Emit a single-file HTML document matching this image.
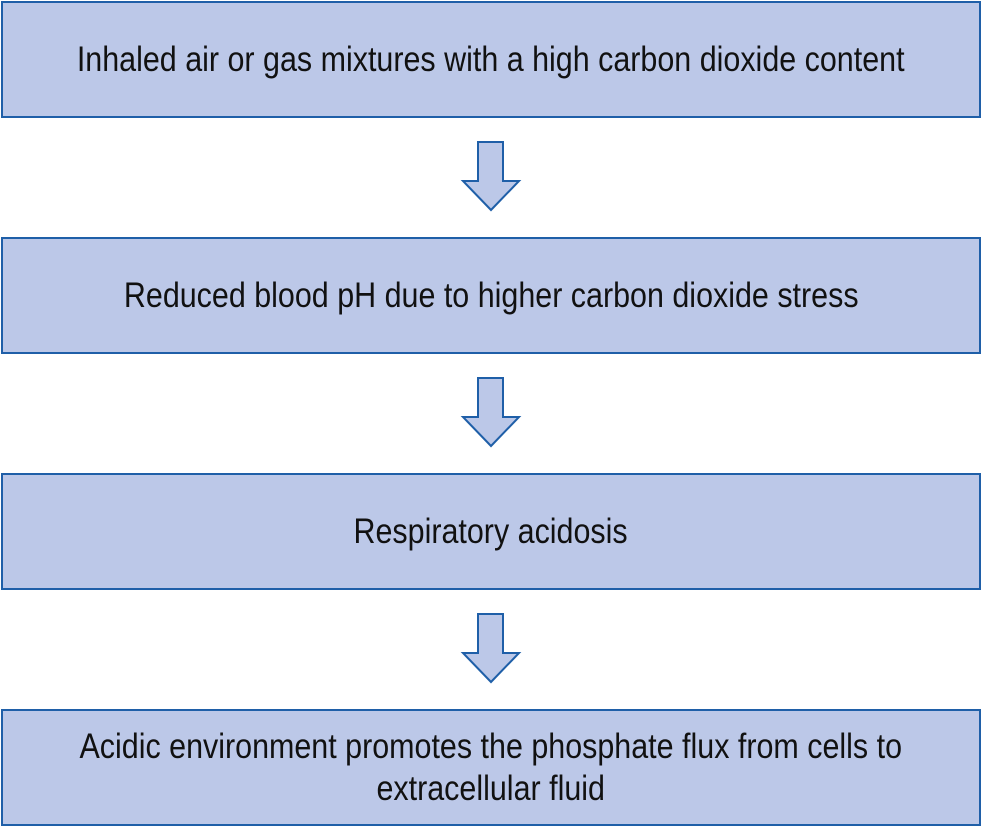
<!DOCTYPE html>
<html><head><style>
html,body{margin:0;padding:0;background:#fff;width:982px;height:827px;overflow:hidden;position:relative}
.b{position:absolute;left:1px;width:976px;height:113px;background:#bcc8e8;border:2px solid #1f5fa8;display:flex;align-items:center;justify-content:center;text-align:center;font-family:"Liberation Sans",sans-serif;font-size:35px;line-height:42px;color:#111}
.b span{display:inline-block;transform:scaleX(0.87);white-space:nowrap}
svg{position:absolute;left:0;top:0}
</style></head><body>
<div class="b" style="top:1px"><span>Inhaled air or gas mixtures with a high carbon dioxide content</span></div>
<div class="b" style="top:237px"><span>Reduced blood pH due to higher carbon dioxide stress</span></div>
<div class="b" style="top:473px"><span>Respiratory acidosis</span></div>
<div class="b" style="top:709px"><span>Acidic environment promotes the phosphate flux from cells to<br>extracellular fluid</span></div>
<svg width="982" height="827">
<g fill="#bcc8e8" stroke="#1f5fa8" stroke-width="2">
<polygon points="478,142 503,142 503,181 519,181 491,210 463,181 478,181"/>
<polygon points="478,378 503,378 503,417 519,417 491,446 463,417 478,417"/>
<polygon points="478,614 503,614 503,653 519,653 491,682 463,653 478,653"/>
</g></svg>
</body></html>
